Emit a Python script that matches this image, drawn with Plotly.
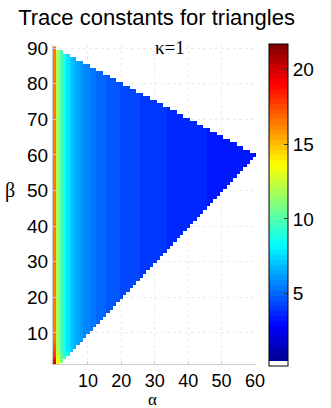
import plotly.graph_objects as go

# ---- data ----
# alpha column index (cell centres) and beta row values
alpha = list(range(0, 61))
beta = list(range(1, 91))
# value per alpha column
col_vals = [16.5, 11.6, 9.7, 8.6, 7.8, 7.2, 6.7, 6.3, 6.0, 5.75,
            5.55, 5.4, 5.25, 5.12, 5.0, 4.9, 4.8, 4.72, 4.65, 4.58,
            4.5, 4.44, 4.38, 4.32, 4.27, 4.22, 4.17, 4.12, 4.08, 4.04,
            4.0, 3.96, 3.92, 3.88, 3.85, 3.82, 3.79, 3.76, 3.73, 3.7,
            3.67, 3.64, 3.61, 3.58, 3.55, 3.52, 3.5, 3.47, 3.45, 3.42,
            3.4, 3.37, 3.35, 3.32, 3.3, 3.28, 3.26, 3.24, 3.22, 3.2, 3.15]
# extra values in the near-degenerate corner (alpha index, beta) -> added value
corner_extra = {(0, 1): 4.5, (0, 2): 2.6, (0, 3): 1.8, (0, 4): 1.3, (0, 5): 0.9,
                (0, 6): 0.6, (0, 7): 0.3, (1, 1): 2.3, (1, 2): 1.6, (1, 3): 1.1,
                (1, 4): 0.7, (1, 5): 0.4, (2, 2): 1.3, (2, 3): 0.8, (2, 4): 0.4,
                (3, 3): 0.8, (3, 4): 0.4, (4, 4): 0.5}
kappa_label = "κ=1"
title = "Trace constants for triangles"
cbar_ticks = [5, 10, 15, 20]

# ---- build the triangle-shaped grid ----
z = []
for b in beta:
    row = []
    for i, a in enumerate(alpha):
        if b >= max(a, 1) and b <= 90 - a / 2:
            row.append(col_vals[i] + corner_extra.get((a, b), 0.0))
        else:
            row.append(None)
    z.append(row)

# MATLAB-like jet (64 colours) with the lowest entry white
def jet(t):
    r = min(max(min(4 * t - 1.5, -4 * t + 4.5), 0), 1)
    g = min(max(min(4 * t - 0.5, -4 * t + 3.5), 0), 1)
    bl = min(max(min(4 * t + 0.5, -4 * t + 2.5), 0), 1)
    return f"rgb({int(r*255)},{int(g*255)},{int(bl*255)})"

N = 64
cs = []
for k in range(N):
    c = "rgb(255,255,255)" if k == 0 else jet((k + 0.5) / N)
    cs.append([k / N, c])
    cs.append([(k + 1) / N, c])

FONT = "Liberation Sans, Arial, Helvetica"
SERIF = "Liberation Serif, Times New Roman"

fig = go.Figure()
fig.add_trace(go.Heatmap(
    x=alpha, y=beta, z=z, colorscale=cs, zmin=0.15, zmax=21.7,
    hoverongaps=False,
    colorbar=dict(
        thickness=19, thicknessmode="pixels",
        len=322, lenmode="pixels",
        x=1.065, xanchor="left", y=0.498, yanchor="middle",
        outlinecolor="black", outlinewidth=1,
        tickvals=cbar_ticks, ticks="inside", ticklen=4, tickcolor="#333",
        tickfont=dict(family=FONT, size=19, color="black"),
        xpad=0, ypad=0,
    ),
))

fig.update_layout(
    width=331, height=408,
    margin=dict(l=53, r=63, t=45, b=44),
    paper_bgcolor="white", plot_bgcolor="white",
    title=dict(text=title, x=0.51, xref="paper", xanchor="center",
               y=0.958, yanchor="middle",
               font=dict(family=FONT, size=22, color="black")),
    xaxis=dict(range=[-0.45, 60.3], tickvals=[10, 20, 30, 40, 50, 60],
               showgrid=True, gridcolor="#ececec", griddash="dot", gridwidth=1,
               zeroline=False, showline=True, linecolor="#cccccc", linewidth=1,
               ticks="inside", ticklen=3, tickcolor="#cccccc",
               tickfont=dict(family=FONT, size=18, color="black")),
    yaxis=dict(range=[1.25, 90.9], tickvals=[10, 20, 30, 40, 50, 60, 70, 80, 90],
               showgrid=True, gridcolor="#ececec", griddash="dot", gridwidth=1,
               zeroline=False, showline=True, linecolor="#cccccc", linewidth=1,
               ticks="inside", ticklen=3, tickcolor="#cccccc",
               tickfont=dict(family=FONT, size=19, color="black")),
    annotations=[
        dict(text=kappa_label, x=0.575, y=1.0, xref="paper", yref="paper",
             xanchor="center", yanchor="middle", yshift=-2, showarrow=False,
             font=dict(family=SERIF, size=19, color="black")),
        dict(text="α", x=0.488, y=0, xref="paper", yref="paper",
             xanchor="center", yanchor="middle", yshift=-35, showarrow=False,
             font=dict(family=SERIF, size=17, color="black")),
        dict(text="β", x=0, y=0.545, xref="paper", yref="paper",
             xanchor="center", yanchor="middle", xshift=-43, showarrow=False,
             font=dict(family=SERIF, size=20, color="black")),
    ],
)

fig.write_html("out.html")
